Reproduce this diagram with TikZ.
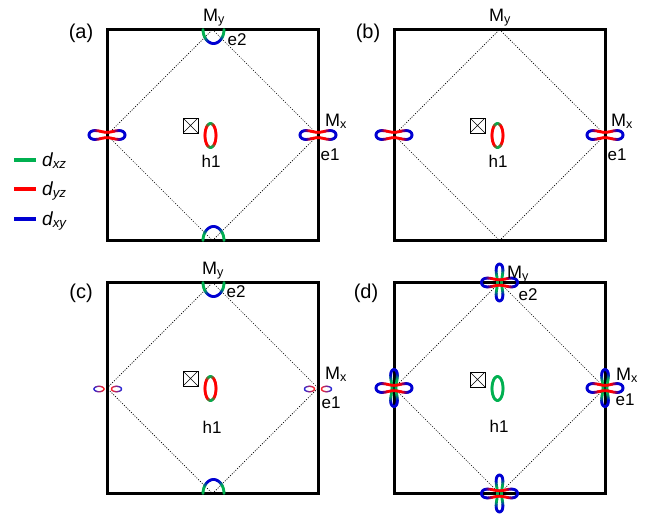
\documentclass[tikz,border=0pt]{standalone}
\usepackage{fontspec}
\setmainfont{Liberation Sans}
\usetikzlibrary{calc}
\definecolor{mygreen}{RGB}{0,176,80}
\definecolor{myred}{RGB}{255,0,0}
\definecolor{myblue}{RGB}{0,0,210}

\tikzset{
  bz/.style={line width=3pt, black},
  diag/.style={line width=0.7pt, dash pattern=on 1pt off 1.5pt},
  seg/.style={line width=2.8pt, line cap=round},
  lbl/.style={font=\fontsize{17}{17}\selectfont, inner sep=0, anchor=base},
  mlbl/.style={font=\fontsize{18}{18}\selectfont, inner sep=0, anchor=base},
  tag/.style={font=\fontsize{20}{20}\selectfont, inner sep=0, anchor=base},
  leg/.style={font=\fontsize{19}{19}\selectfont\itshape, inner sep=0, anchor=base west},
  xbox/.style={draw, line width=0.8pt, minimum size=15pt, inner sep=0,
    path picture={\draw[line width=0.6pt] (path picture bounding box.south west) -- (path picture bounding box.north east)
      (path picture bounding box.north west) -- (path picture bounding box.south east);}},
}

% figure-eight pocket: centre, rotation, half length, width, end colour, middle colour
\newcommand{\eight}[6]{%
  \begin{scope}[shift={#1}, rotate=#2]
  \foreach \t in {0,6,...,354}{
    \pgfmathsetmacro\p{max(0,min(100,(abs(cos(\t+3))-0.4)*300))}
    \draw[seg, color=#5!\p!#6] ({#3*cos(\t)},{#4*sin(\t)*sqrt(0.1+0.9*cos(\t)*cos(\t))})
      -- ({#3*cos(\t+6)},{#4*sin(\t+6)*sqrt(0.1+0.9*cos(\t+6)*cos(\t+6))});
  }
  \end{scope}}

% half pocket on an edge: centre, start angle
\newcommand{\dome}[2]{%
  \begin{scope}[shift={#1}, xshift=1pt]
  \foreach \t in {0,6,...,174}{
    \pgfmathsetmacro\p{max(0,min(100,(abs(sin(#2+\t+3))-0.5)*285))}
    \draw[seg, color=myblue!\p!mygreen] ({10.5*cos(#2+\t)},{14*sin(#2+\t)})
      -- ({10.5*cos(#2+\t+6)},{14*sin(#2+\t+6)});
  }
  \end{scope}}

% hole pocket at the centre: centre, middle colour
\newcommand{\hole}[2]{%
  \begin{scope}[shift={#1}, xshift=-2pt, yshift=-0.5pt]
  \foreach \t in {0,6,...,354}{
    \pgfmathsetmacro\p{max(0,min(100,(abs(sin(\t+3))-0.75)*400))}
    \draw[seg, color=mygreen!\p!#2] ({5.5*cos(\t)},{12*sin(\t)})
      -- ({5.5*cos(\t+6)},{12*sin(\t+6)});
  }
  \end{scope}}

% small split pocket: centre, side of the blue end
\newcommand{\pip}[2]{%
  \begin{scope}[shift={#1}]
  \foreach \t in {0,15,...,345}{
    \pgfmathsetmacro\p{50+50*(#2)*cos(\t+7.5)}
    \draw[line width=1.3pt, line cap=round, color=myblue!\p!myred!85!white] ({5*cos(\t)},{2.7*sin(\t)})
      -- ({5*cos(\t+15)},{2.7*sin(\t+15)});
  }
  \end{scope}}

\begin{document}
\begin{tikzpicture}[x=1pt, y=-1pt]
\useasboundingbox (0,0) rectangle (660,517);
% zones and diamonds
\foreach \pn/\cx/\cy in {a/212.5/135, b/499.5/135, c/212.5/388, d/499.5/388}{
  \coordinate (\pn-o) at (\cx,\cy);
  \coordinate (\pn-n) at (\cx,\cy-105.5);
  \coordinate (\pn-s) at (\cx,\cy+105.5);
  \coordinate (\pn-w) at (\cx-105.5,\cy);
  \coordinate (\pn-e) at (\cx+105.5,\cy);
  \draw[diag] (\pn-n) -- (\pn-e) -- (\pn-s) -- (\pn-w) -- cycle;
  \draw[bz] (\pn-n -| \pn-w) rectangle (\pn-s -| \pn-e);
}
% (a)
\dome{(a-n)}{0}
\dome{(a-s)}{180}
\eight{(a-w)}{0}{18}{8.4}{myblue}{myred}
\eight{(a-e)}{0}{18}{8.4}{myblue}{myred}
\hole{(a-o)}{myred}
% (b)
\eight{(b-w)}{0}{18}{8.4}{myblue}{myred}
\eight{(b-e)}{0}{18}{8.4}{myblue}{myred}
\hole{(b-o)}{myred}
% (c)
\dome{(c-n)}{0}
\dome{(c-s)}{180}
\pip{($(c-w)+(-8,1)$)}{-1}
\pip{($(c-w)+(9.5,1)$)}{1}
\pip{($(c-e)+(-8.5,1)$)}{-1}
\pip{($(c-e)+(8.5,1)$)}{1}
\hole{(c-o)}{myred}
% (d)
\foreach \q in {n,s,w,e}{
  \eight{(d-\q)}{90}{18.5}{6.4}{myblue}{mygreen}
  \eight{(d-\q)}{0}{18}{8.4}{myblue}{myred}
}
\hole{(d-o)}{mygreen}
% box symbols
\node[xbox] (sq-a) at (190.5,125.5) {};
\node[xbox] (sq-b) at (477.5,125.5) {};
\node[xbox] (sq-c) at (190.5,378.5) {};
\node[xbox] (sq-d) at (477.5,379.5) {};
% labels
\node[tag] (lab-a) at (81,38) {(a)};
\node[tag] (lab-b) at (368,38) {(b)};
\node[tag] (lab-c) at (81,298) {(c)};
\node[tag] (lab-d) at (366,298) {(d)};
\node[mlbl] (my-a) at (214,21) {M\textsubscript{y}};
\node[mlbl] (my-b) at (500,21) {M\textsubscript{y}};
\node[mlbl] (my-c) at (213,274) {M\textsubscript{y}};
\node[mlbl] (my-d) at (518,278) {M\textsubscript{y}};
\node[mlbl] (mx-a) at (336,126) {M\textsubscript{x}};
\node[mlbl] (mx-b) at (622,126) {M\textsubscript{x}};
\node[mlbl] (mx-c) at (336,379) {M\textsubscript{x}};
\node[mlbl] (mx-d) at (627,380) {M\textsubscript{x}};
\node[lbl] (e2-a) at (237,45) {e2};
\node[lbl] (e2-c) at (236,297) {e2};
\node[lbl] (e2-d) at (528,300) {e2};
\node[lbl] (e1-a) at (330,160) {e1};
\node[lbl] (e1-b) at (617,160) {e1};
\node[lbl] (e1-c) at (331,408) {e1};
\node[lbl] (e1-d) at (625,405) {e1};
\node[lbl] (h1-a) at (211,167) {h1};
\node[lbl] (h1-b) at (498,167) {h1};
\node[lbl] (h1-c) at (212,433) {h1};
\node[lbl] (h1-d) at (499,432) {h1};
% legend
\foreach \c/\s/\yy in {mygreen/xz/160, myred/yz/189, myblue/xy/219}{
  \draw[line width=4pt, \c] (14,\yy) -- (36,\yy);
  \node[leg] (lg-\s) at (42,\yy+6) {d\textsubscript{\s}};
}
\end{tikzpicture}
\end{document}
